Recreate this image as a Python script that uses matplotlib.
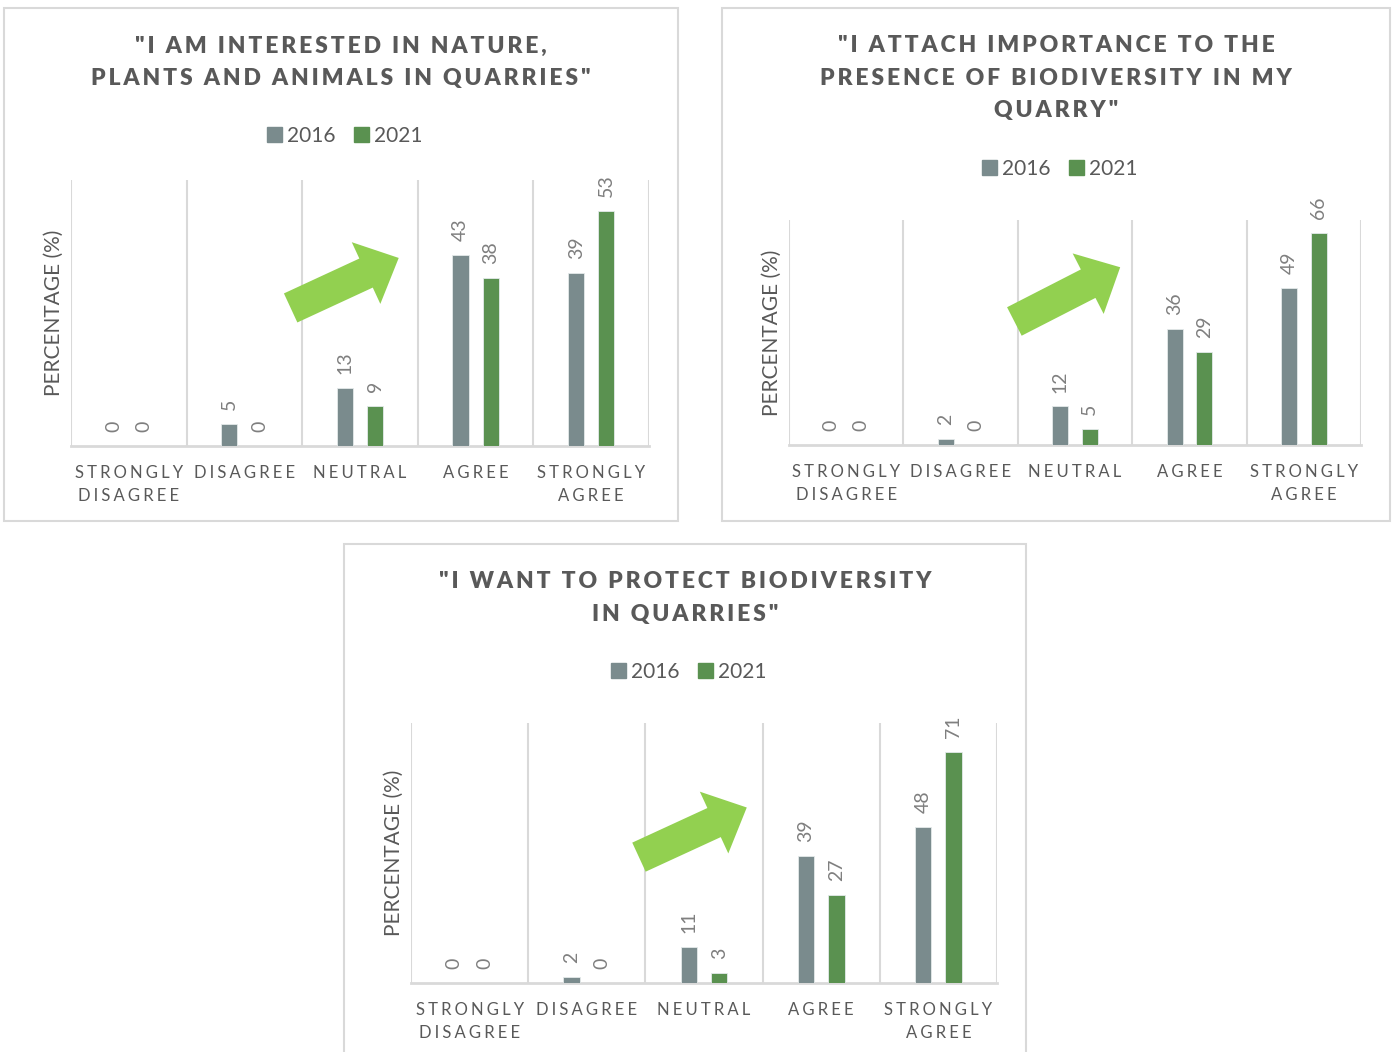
import numpy as np
import matplotlib
matplotlib.use('Agg')
import matplotlib.pyplot as plt
from matplotlib.patches import Patch, Rectangle, Polygon
from matplotlib.transforms import IdentityTransform

plt.rcParams['font.family'] = ['Lato', 'DejaVu Sans']

W, H = 1394, 1052

# survey data (% of respondents)
categories = ['STRONGLY\nDISAGREE', 'DISAGREE', 'NEUTRAL', 'AGREE', 'STRONGLY\nAGREE']
years = ['2016', '2021']

nature_2016 = [0, 5, 13, 43, 39]
nature_2021 = [0, 0, 9, 38, 53]
importance_2016 = [0, 2, 12, 36, 49]
importance_2021 = [0, 0, 5, 29, 66]
protect_2016 = [0, 2, 11, 39, 48]
protect_2021 = [0, 0, 3, 27, 71]

titles = [
    ['"I AM INTERESTED IN NATURE,', 'PLANTS AND ANIMALS IN QUARRIES"'],
    ['"I ATTACH IMPORTANCE TO THE', 'PRESENCE OF BIODIVERSITY IN MY', 'QUARRY"'],
    ['"I WANT TO PROTECT BIODIVERSITY', 'IN QUARRIES"'],
]
y_limits = [60, 70, 80]

GRAY = '#7a8b8d'
GREEN = '#5a9150'
ARROW = '#92d050'
TEXT = '#595959'
LABEL = '#7f7f7f'
LINE = '#d9d9d9'

# panel layout in pixels: frame box, plot area, title line centres, legend centre, arrow
panels = [
    dict(box=(4, 8, 678, 521), area=(71, 180, 649, 446), title_x=341, title_y=46,
         legend=(345, 136), arrow=((0.380, 0.519), (0.567, 0.707)),
         data=(nature_2016, nature_2021)),
    dict(box=(722, 8, 1390, 521), area=(789, 220, 1361, 445), title_x=1056, title_y=46,
         legend=(1060, 169), arrow=((0.394, 0.549), (0.579, 0.790)),
         data=(importance_2016, importance_2021)),
    dict(box=(344, 544, 1026, 1060), area=(411, 723, 997, 983), title_x=685, title_y=582,
         legend=(689, 672), arrow=((0.389, 0.484), (0.573, 0.675)),
         data=(protect_2016, protect_2021)),
]


def fig_rect(x0, y0, x1, y1):
    return [x0 / W, 1 - y1 / H, (x1 - x0) / W, (y1 - y0) / H]


def spaced(text, sep='\u2009'):
    return '\n'.join(sep.join(line) for line in text.split('\n'))


def block_arrow(ax, tail, tip, shaft=32, head_w=68, head_len=36):
    # build the arrow in display pixels so it keeps its shape
    p0 = np.array(ax.transAxes.transform(tail))
    p1 = np.array(ax.transAxes.transform(tip))
    u = (p1 - p0) / np.linalg.norm(p1 - p0)
    n = np.array([-u[1], u[0]])
    base = p1 - u * head_len
    pts = [p0 + n * shaft / 2, base + n * shaft / 2, base + n * head_w / 2, p1,
           base - n * head_w / 2, base - n * shaft / 2, p0 - n * shaft / 2]
    ax.add_patch(Polygon(pts, closed=True, facecolor=ARROW, edgecolor='none',
                         transform=IdentityTransform(), zorder=5, clip_on=False))


fig = plt.figure(figsize=(W / 100, H / 100), dpi=100)
fig.patch.set_facecolor('white')

x = np.arange(len(categories))
bar_w = 0.14
offset = 0.13

for p, title, ymax in zip(panels, titles, y_limits):
    bx0, by0, bx1, by1 = p['box']
    fig.add_artist(Rectangle((bx0 / W, 1 - by1 / H), (bx1 - bx0) / W, (by1 - by0) / H,
                             transform=fig.transFigure, fill=False,
                             edgecolor=LINE, linewidth=1.5))

    for i, line in enumerate(title):
        fig.text(p['title_x'] / W, 1 - (p['title_y'] + i * 32.5) / H, spaced(line),
                 ha='center', va='center', fontsize=16.5, fontweight='heavy', color=TEXT)

    ax = fig.add_axes(fig_rect(*p['area']))
    v16, v21 = p['data']
    b1 = ax.bar(x - offset, v16, bar_w, color=GRAY, edgecolor='#e4eaea', linewidth=0.6, zorder=3)
    b2 = ax.bar(x + offset, v21, bar_w, color=GREEN, edgecolor='#e4eaea', linewidth=0.6, zorder=3)
    for bars, vals in ((b1, v16), (b2, v21)):
        for rect, v in zip(bars, vals):
            ax.annotate(str(v), (rect.get_x() + rect.get_width() / 2, v),
                        xytext=(0, 10), textcoords='offset points', rotation=90,
                        ha='center', va='bottom', fontsize=14, color=LABEL)

    ax.set_xlim(-0.5, len(categories) - 0.5)
    ax.set_ylim(0, ymax)
    ax.vlines(np.arange(len(categories) + 1) - 0.5, 0, ymax, color=LINE, linewidth=1.5, zorder=1)
    for side in ('top', 'right', 'left'):
        ax.spines[side].set_visible(False)
    ax.spines['bottom'].set_color(LINE)
    ax.spines['bottom'].set_linewidth(2)
    ax.set_yticks([])
    ax.set_xticks(x)
    ax.set_xticklabels([spaced(c, '\u2009\u200a') for c in categories],
                       fontsize=12, color=TEXT, linespacing=1.55)
    ax.tick_params(axis='x', length=0, pad=13.5)

    ax_w = p['area'][2] - p['area'][0]
    ax.text(-17 / ax_w, 0.5, 'PERCENTAGE (%)', rotation=90, transform=ax.transAxes,
            ha='center', va='center', fontsize=15, color=TEXT)

    lx, ly = p['legend']
    fig.legend(handles=[Patch(color=GRAY), Patch(color=GREEN)], labels=years,
               loc='center', bbox_to_anchor=(lx / W, 1 - ly / H), ncol=2, frameon=False,
               fontsize=15, handlelength=0.7, handleheight=0.7, handletextpad=0.25,
               columnspacing=0.9, labelcolor=TEXT, borderpad=0)

    fig.canvas.draw()
    block_arrow(ax, *p['arrow'])

fig.savefig('out.png', dpi=100, facecolor='white')
